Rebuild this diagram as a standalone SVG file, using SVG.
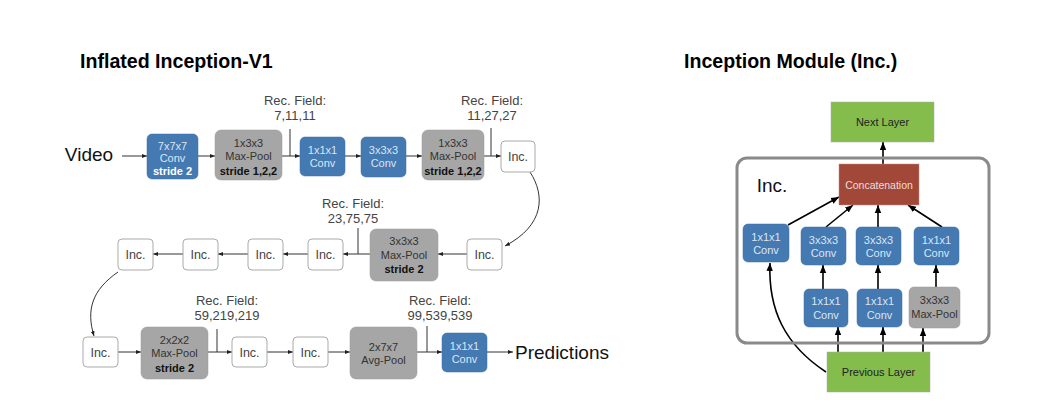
<svg xmlns="http://www.w3.org/2000/svg" width="1051" height="419" viewBox="0 0 1051 419">
<style>
text{font-family:"Liberation Sans",Arial,sans-serif;text-anchor:middle}
.title{font-size:19.6px;font-weight:bold;text-anchor:start;fill:#000}
.big{font-size:19px;fill:#111}
.rf{font-size:13px;fill:#444}
.blue{fill:#4479b2;stroke:#3d6fa5;stroke-width:0.5}
.bt{font-size:11px;fill:#dbe6f2}
.btb{font-size:11px;fill:#fff;font-weight:bold}
.gray{fill:#a6a6a6;stroke:#999;stroke-width:0.5}
.gt{font-size:11px;fill:#333}
.gtb{font-size:11px;fill:#111;font-weight:bold}
.inc{fill:#fff;stroke:#aaa;stroke-width:1}
.it{font-size:12.5px;fill:#444}
.green{fill:#84bd4c;stroke:#aaa;stroke-width:0.5}
.red{fill:#a24839;stroke:#c88;stroke-width:0.5}
.a{stroke:#333;stroke-width:1;fill:none}
.ra{stroke:#000;stroke-width:1.6;fill:none}
</style>
<defs>
<marker id="m" viewBox="0 0 10 10" refX="10" refY="5" markerWidth="5" markerHeight="5" orient="auto" markerUnits="userSpaceOnUse"><path d="M0,1 L10,5 L0,9 z" fill="#222"/></marker>
<marker id="mr" viewBox="0 0 10 10" refX="10" refY="5" markerWidth="8" markerHeight="8" orient="auto" markerUnits="userSpaceOnUse"><path d="M0,1 L10,5 L0,9 z" fill="#000"/></marker>
</defs>
<rect width="1051" height="419" fill="#fff"/>

<text class="title" x="80" y="68">Inflated Inception-V1</text>
<text class="title" x="684" y="68">Inception Module (Inc.)</text>

<text class="big" x="89" y="161">Video</text>
<text class="big" x="562" y="359">Predictions</text>

<g id="recfields">
<text class="rf" x="295" y="105">Rec. Field:</text><text class="rf" x="295" y="120">7,11,11</text>
<text class="rf" x="492" y="105">Rec. Field:</text><text class="rf" x="492" y="120">11,27,27</text>
<text class="rf" x="353" y="208">Rec. Field:</text><text class="rf" x="353" y="223">23,75,75</text>
<text class="rf" x="227" y="305">Rec. Field:</text><text class="rf" x="227" y="320">59,219,219</text>
<text class="rf" x="440" y="305">Rec. Field:</text><text class="rf" x="440" y="320">99,539,539</text>
</g>

<g id="connectors">
<path class="a" marker-end="url(#m)" d="M122,156 H147"/>
<path class="a" marker-end="url(#m)" d="M198,156 H215"/>
<path class="a" marker-end="url(#m)" d="M282,156 H300"/>
<path class="a" marker-end="url(#m)" d="M345,156 H361"/>
<path class="a" marker-end="url(#m)" d="M406,156 H422"/>
<path class="a" marker-end="url(#m)" d="M484,156 H501"/>
<path class="a" d="M290,129 V156 M491,128 V156 M358,228 V254 M217,329 V352 M427,326 V352"/>
<path class="a" marker-end="url(#m)" d="M530,172 C545,195 545,225 505,246"/>
<path class="a" marker-end="url(#m)" d="M467,254 H438"/>
<path class="a" marker-end="url(#m)" d="M370,254 H343"/>
<path class="a" marker-end="url(#m)" d="M308,254 H283"/>
<path class="a" marker-end="url(#m)" d="M248,254 H218"/>
<path class="a" marker-end="url(#m)" d="M183,254 H153"/>
<path class="a" marker-end="url(#m)" d="M118,272 C92,290 86,310 94,336"/>
<path class="a" marker-end="url(#m)" d="M118,352 H141"/>
<path class="a" marker-end="url(#m)" d="M208,352 H232"/>
<path class="a" marker-end="url(#m)" d="M267,352 H293"/>
<path class="a" marker-end="url(#m)" d="M328,352 H350"/>
<path class="a" marker-end="url(#m)" d="M417,352 H442"/>
<path class="a" marker-end="url(#m)" d="M487,352 H513"/>

<path class="ra" marker-end="url(#mr)" d="M883,164 V142"/>
<path class="ra" marker-end="url(#mr)" d="M788,225 L839,197"/>
<path class="ra" marker-end="url(#mr)" d="M826,227 L853,205"/>
<path class="ra" marker-end="url(#mr)" d="M878,227 V205"/>
<path class="ra" marker-end="url(#mr)" d="M942,227 L908,205"/>
<path class="ra" marker-end="url(#mr)" d="M823,289 V265"/>
<path class="ra" marker-end="url(#mr)" d="M878,289 V265"/>
<path class="ra" marker-end="url(#mr)" d="M936,287 V265"/>
<path class="ra" marker-end="url(#mr)" d="M838,352 V327"/>
<path class="ra" marker-end="url(#mr)" d="M883,352 V327"/>
<path class="ra" marker-end="url(#mr)" d="M923,352 V328"/>
<path class="ra" marker-end="url(#mr)" d="M826,372 C785,345 768,310 770,263"/>
</g>

<g id="n1"><rect class="blue" x="147" y="134" width="51" height="45" rx="5"/><text class="bt" x="172.5" y="150">7x7x7</text><text class="bt" x="172.5" y="162">Conv</text><text class="btb" x="172.5" y="175">stride 2</text></g>
<g id="n2"><rect class="gray" x="215" y="130" width="67" height="50" rx="6"/><text class="gt" x="248.5" y="147">1x3x3</text><text class="gt" x="248.5" y="160">Max-Pool</text><text class="gtb" x="248.5" y="175">stride 1,2,2</text></g>
<g id="n3"><rect class="blue" x="300" y="137" width="45" height="39" rx="5"/><text class="bt" x="322.5" y="154">1x1x1</text><text class="bt" x="322.5" y="167">Conv</text></g>
<g id="n4"><rect class="blue" x="361" y="137" width="45" height="40" rx="5"/><text class="bt" x="383.5" y="154">3x3x3</text><text class="bt" x="383.5" y="167">Conv</text></g>
<g id="n5"><rect class="gray" x="422" y="130" width="62" height="50" rx="6"/><text class="gt" x="453" y="147">1x3x3</text><text class="gt" x="453" y="160">Max-Pool</text><text class="gtb" x="453" y="175">stride 1,2,2</text></g>
<g id="n6"><rect class="inc" x="501" y="141" width="34" height="31" rx="4"/><text class="it" x="518" y="161">Inc.</text></g>

<g id="n7"><rect class="inc" x="467" y="239" width="35" height="31" rx="4"/><text class="it" x="484.5" y="259">Inc.</text></g>
<g id="n8"><rect class="gray" x="370" y="229" width="68" height="52" rx="6"/><text class="gt" x="404" y="245">3x3x3</text><text class="gt" x="404" y="259">Max-Pool</text><text class="gtb" x="404" y="273">stride 2</text></g>
<g id="n9"><rect class="inc" x="308" y="239" width="35" height="31" rx="4"/><text class="it" x="325.5" y="259">Inc.</text></g>
<g id="n10"><rect class="inc" x="248" y="239" width="35" height="31" rx="4"/><text class="it" x="265.5" y="259">Inc.</text></g>
<g id="n11"><rect class="inc" x="183" y="239" width="35" height="31" rx="4"/><text class="it" x="200.5" y="259">Inc.</text></g>
<g id="n12"><rect class="inc" x="118" y="239" width="35" height="31" rx="4"/><text class="it" x="135.5" y="259">Inc.</text></g>

<g id="n13"><rect class="inc" x="83" y="337" width="35" height="30" rx="4"/><text class="it" x="100.5" y="357">Inc.</text></g>
<g id="n14"><rect class="gray" x="141" y="327" width="67" height="52" rx="6"/><text class="gt" x="174.5" y="344">2x2x2</text><text class="gt" x="174.5" y="357">Max-Pool</text><text class="gtb" x="174.5" y="372">stride 2</text></g>
<g id="n15"><rect class="inc" x="232" y="337" width="35" height="30" rx="4"/><text class="it" x="249.5" y="357">Inc.</text></g>
<g id="n16"><rect class="inc" x="293" y="337" width="35" height="30" rx="4"/><text class="it" x="310.5" y="357">Inc.</text></g>
<g id="n17"><rect class="gray" x="350" y="327" width="67" height="52" rx="6"/><text class="gt" x="383.5" y="351">2x7x7</text><text class="gt" x="383.5" y="364">Avg-Pool</text></g>
<g id="n18"><rect class="blue" x="442" y="333" width="45" height="39" rx="5"/><text class="bt" x="464.5" y="350">1x1x1</text><text class="bt" x="464.5" y="363">Conv</text></g>

<g id="module"><rect x="737" y="158" width="252" height="185" rx="10" fill="none" stroke="#8a8a8a" stroke-width="3"/><text x="772" y="192" style="font-size:19px;fill:#111">Inc.</text></g>
<g id="r1"><rect class="green" x="831" y="102" width="103" height="40"/><text x="882.5" y="126" style="font-size:11px;fill:#222">Next Layer</text></g>
<g id="r2"><rect class="red" x="839" y="164" width="80" height="41"/><text x="879" y="189" style="font-size:10.5px;fill:#f0dcd8">Concatenation</text></g>
<g id="r3"><rect class="blue" x="743" y="224" width="46" height="38" rx="5"/><text class="bt" x="766" y="241">1x1x1</text><text class="bt" x="766" y="254">Conv</text></g>
<g id="r4"><rect class="blue" x="801" y="227" width="45" height="38" rx="5"/><text class="bt" x="823.5" y="244">3x3x3</text><text class="bt" x="823.5" y="257">Conv</text></g>
<g id="r5"><rect class="blue" x="856" y="227" width="45" height="38" rx="5"/><text class="bt" x="878.5" y="244">3x3x3</text><text class="bt" x="878.5" y="257">Conv</text></g>
<g id="r6"><rect class="blue" x="914" y="227" width="45" height="38" rx="5"/><text class="bt" x="936.5" y="244">1x1x1</text><text class="bt" x="936.5" y="257">Conv</text></g>
<g id="r7"><rect class="blue" x="804" y="289" width="44" height="38" rx="5"/><text class="bt" x="826" y="305">1x1x1</text><text class="bt" x="826" y="319">Conv</text></g>
<g id="r8"><rect class="blue" x="857" y="289" width="45" height="38" rx="5"/><text class="bt" x="879.5" y="305">1x1x1</text><text class="bt" x="879.5" y="319">Conv</text></g>
<g id="r9"><rect class="gray" x="909" y="287" width="51" height="41" rx="5"/><text class="gt" x="934.5" y="304">3x3x3</text><text class="gt" x="934.5" y="318">Max-Pool</text></g>
<g id="r10"><rect class="green" x="827" y="352" width="103" height="40"/><text x="878.5" y="376" style="font-size:11px;fill:#222">Previous Layer</text></g>
</svg>
